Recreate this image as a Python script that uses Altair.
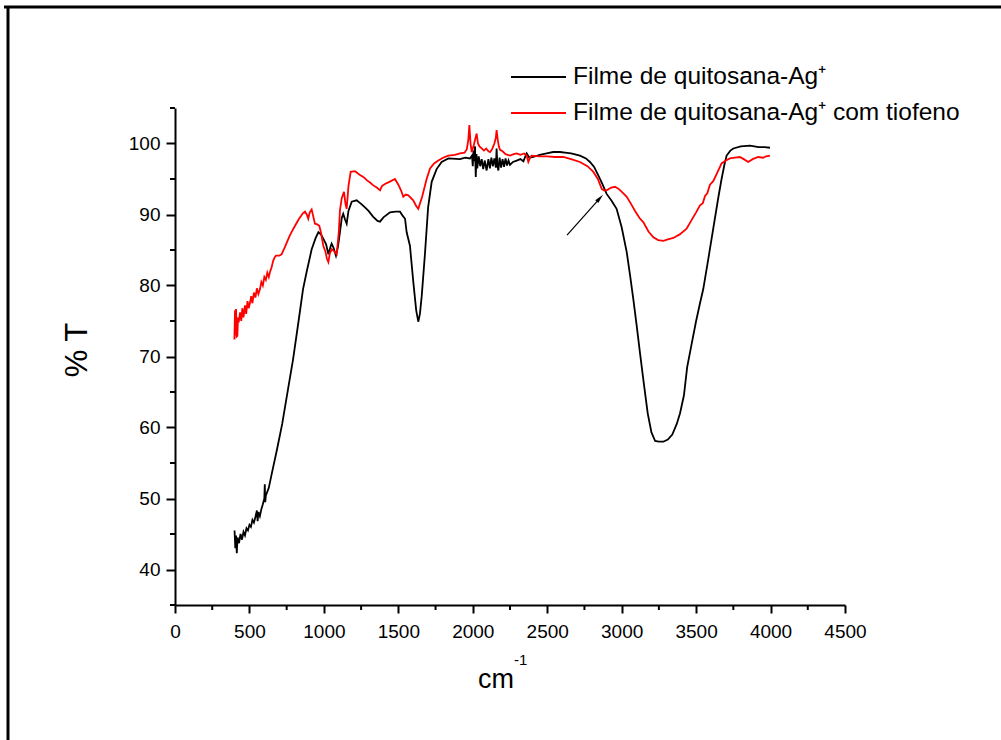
import altair as alt
import pandas as pd

# ---- data ----
black_x = [400, 405, 410, 415, 420, 430, 440, 450, 460, 470, 480, 490, 500, 510, 520, 530, 540, 550, 555, 560,
           570, 580, 590, 600, 603, 606, 610, 630, 650, 685, 720, 760, 793, 830, 860, 884, 918, 945, 963, 980,
           996, 1015, 1030, 1045, 1052, 1065, 1081, 1095, 1108, 1120, 1130, 1142, 1153, 1165, 1187, 1220, 1250,
           1276, 1300, 1330, 1360, 1377, 1400, 1444, 1480, 1511, 1530, 1545, 1556, 1578, 1601, 1620, 1634, 1645,
           1657, 1679, 1700, 1724, 1757, 1791, 1836, 1914, 1950, 1981, 1995, 2000, 2005, 2010, 2015, 2020, 2025,
           2030, 2040, 2050, 2060, 2070, 2080, 2093, 2105, 2115, 2125, 2135, 2145, 2155, 2160, 2165, 2172, 2180,
           2190, 2200, 2210, 2220, 2230, 2240, 2250, 2270, 2295, 2320, 2340, 2355, 2362, 2380, 2406, 2450, 2496,
           2540, 2586, 2620, 2660, 2720, 2760, 2787, 2815, 2843, 2870, 2899, 2930, 2966, 3000, 3034, 3056, 3078,
           3100, 3123, 3150, 3175, 3200, 3225, 3250, 3280, 3310, 3340, 3370, 3392, 3418, 3440, 3472, 3500, 3526,
           3548, 3580, 3615, 3650, 3671, 3690, 3705, 3730, 3750, 3800, 3862, 3920, 3960, 3996]
black_y = [45.5, 43.0, 44.8, 42.3, 44.5, 43.7, 45.0, 44.2, 45.3, 44.8, 45.8, 45.5, 46.3, 46.0, 47.0, 46.6, 47.4,
           48.3, 46.8, 48.1, 47.5, 48.5, 49.2, 50.0, 52.0, 49.5, 50.4, 51.5, 53.5, 56.9, 60.5, 65.5, 69.6, 75.0,
           79.5, 81.9, 85.1, 86.7, 87.5, 87.2, 86.6, 85.8, 84.4, 85.5, 85.9, 85.3, 84.2, 85.5, 87.5, 89.5, 90.1,
           89.3, 88.7, 90.5, 91.8, 92.0, 91.5, 91.0, 90.5, 89.7, 89.1, 89.0, 89.6, 90.3, 90.4, 90.4, 89.8, 89.4,
           87.5, 85.6, 80.4, 76.5, 74.9, 76.0, 78.5, 84.5, 91.0, 94.6, 96.4, 97.4, 97.9, 97.8, 98.0, 97.9, 98.3,
           96.8, 99.0, 97.5, 99.6, 95.3, 98.5, 96.5, 98.2, 96.8, 97.8, 96.4, 97.6, 96.2, 97.8, 96.5, 98.0, 96.8,
           97.9, 96.6, 99.3, 97.0, 96.2, 98.0, 96.6, 97.8, 96.7, 97.9, 96.9, 97.6, 97.0, 97.4, 97.6, 97.8, 97.5,
           98.3, 98.6, 98.0, 98.1, 98.4, 98.6, 98.8, 98.8, 98.7, 98.6, 98.3, 97.9, 97.4, 96.7, 95.5, 94.3, 92.9,
           92.0, 90.8, 88.2, 84.7, 81.5, 78.1, 74.5, 70.5, 66.0, 62.0, 59.3, 58.1, 58.0, 58.0, 58.3, 59.0, 60.5,
           62.0, 64.5, 68.5, 72.0, 75.0, 77.5, 79.5, 83.5, 88.0, 92.5, 95.0, 97.0, 98.3, 99.0, 99.3, 99.6, 99.7,
           99.5, 99.5, 99.4]

red_x = [399, 403, 406, 410, 414, 419, 423, 428, 437, 445, 452, 460, 470, 478, 487, 495, 504, 512, 520, 530,
         540, 550, 560, 571, 580, 590, 600, 610, 620, 630, 638, 648, 660, 670, 678, 700, 716, 740, 770, 795,
         830, 860, 873, 885, 895, 905, 918, 930, 940, 955, 969, 980, 996, 1010, 1020, 1030, 1040, 1052, 1070,
         1086, 1100, 1108, 1120, 1135, 1145, 1153, 1165, 1180, 1209, 1240, 1265, 1290, 1310, 1332, 1355, 1377,
         1390, 1410, 1440, 1477, 1500, 1520, 1533, 1550, 1567, 1600, 1620, 1634, 1660, 1690, 1713, 1740, 1769,
         1800, 1836, 1880, 1914, 1945, 1960, 1970, 1977, 1985, 1993, 2005, 2015, 2026, 2035, 2045, 2060, 2075,
         2090, 2105, 2116, 2130, 2145, 2155, 2160, 2168, 2175, 2183, 2200, 2220, 2250, 2275, 2295, 2320, 2345,
         2362, 2373, 2385, 2395, 2450, 2500, 2550, 2608, 2660, 2720, 2770, 2810, 2840, 2866, 2880, 2899, 2930,
         2955, 2980, 3010, 3034, 3060, 3090, 3120, 3146, 3180, 3213, 3245, 3280, 3310, 3347, 3390, 3436, 3480,
         3500, 3526, 3545, 3560, 3575, 3593, 3615, 3640, 3671, 3700, 3727, 3760, 3794, 3820, 3850, 3880, 3917,
         3950, 3970, 3996]
red_y = [72.4, 76.5, 73.0, 76.7, 72.8, 72.9, 75.5, 74.8, 76.2, 75.0, 76.8, 75.5, 77.2, 76.0, 77.8, 76.8, 77.6,
         78.5, 77.5, 79.0, 78.3, 79.6, 78.8, 79.5, 80.5, 80.0, 81.2, 80.8, 81.8, 81.2, 81.9, 82.5, 83.5, 84.0,
         84.2, 84.2, 84.4, 85.5, 87.0, 88.0, 89.3, 90.2, 90.4, 90.0, 89.4, 90.3, 90.7, 89.6, 88.7, 88.6, 88.4,
         87.5, 85.6, 84.8, 83.8, 83.3, 84.5, 85.1, 84.8, 84.4, 87.5, 90.6, 92.3, 93.2, 91.5, 90.8, 94.0, 96.0,
         96.1, 95.6, 95.3, 94.8, 94.5, 94.1, 93.8, 93.4, 94.0, 94.3, 94.6, 95.0, 94.2, 93.3, 92.5, 92.8, 92.7,
         92.0, 91.2, 90.8, 92.5, 95.0, 96.5, 97.2, 97.6, 98.0, 98.3, 98.4, 98.6, 98.7, 99.2, 100.5, 102.6, 100.0,
         98.8, 99.6, 100.5, 101.4, 100.0, 99.6, 99.3, 99.0, 99.3, 98.9, 98.8, 99.2, 100.0, 100.8, 101.9, 100.5,
         99.6, 99.1, 98.9, 98.5, 98.3, 98.5, 98.6, 98.4, 98.6, 98.3, 97.4, 98.0, 98.3, 98.2, 98.2, 98.1, 98.1,
         97.8, 97.4, 96.8, 96.0, 95.0, 93.6, 93.4, 93.4, 93.8, 93.9, 93.6, 93.0, 92.5, 91.6, 90.5, 89.5, 88.9,
         87.6, 86.8, 86.4, 86.3, 86.5, 86.7, 87.2, 88.0, 89.6, 90.3, 91.3, 91.6, 92.6, 93.0, 94.2, 94.7, 95.8,
         97.2, 97.6, 97.9, 98.0, 98.1, 97.8, 97.4, 97.8, 98.1, 98.0, 98.2, 98.3]

series_names = ["Filme de quitosana-Ag\u207a", "Filme de quitosana-Ag\u207a com tiofeno"]
series_colors = ["#000000", "#ff0000"]

x_major = list(range(0, 4501, 500))
x_minor = list(range(250, 4500, 500))
y_major = list(range(40, 101, 10))
y_minor = list(range(35, 106, 10))

x_title = "cm"
x_title_sup = "-1"
y_title = "% T"

# arrow annotation (data coordinates)
arrow_start = {"x": 2633, "y": 87.1}
arrow_tip = {"x": 2850, "y": 92.2}

W, H = 670, 497

df = pd.concat([
    pd.DataFrame({"x": black_x, "y": black_y, "s": series_names[0], "o": range(len(black_x))}),
    pd.DataFrame({"x": red_x, "y": red_y, "s": series_names[1], "o": range(len(red_x))}),
])

FONT = "Liberation Sans"

xscale = alt.Scale(domain=[0, 4500], nice=False, zero=False)
yscale = alt.Scale(domain=[35, 105], nice=False, zero=False)

x_axis = alt.Axis(
    values=x_major, format="d", tickSize=8,
    labelPadding=9, labelFontSize=19, labelFont=FONT, labelColor="black",
    domainColor="black", domainWidth=2, tickColor="black", tickWidth=2,
    grid=False, labelOverlap=False, labelFlush=False, title=None,
)
y_axis = alt.Axis(
    values=y_major, format="d", tickSize=9,
    labelPadding=6, labelFontSize=19, labelFont=FONT, labelColor="black",
    domainColor="black", domainWidth=2, tickColor="black", tickWidth=2,
    grid=False, labelOverlap=False, labelFlush=False, title=None,
)

lines = alt.Chart(df).mark_line(strokeWidth=1.8).encode(
    x=alt.X("x:Q", scale=xscale, axis=x_axis),
    y=alt.Y("y:Q", scale=yscale, axis=y_axis),
    color=alt.Color("s:N", scale=alt.Scale(domain=series_names, range=series_colors), legend=None),
    order="o:Q",
)

xminor_df = pd.DataFrame({"v": x_minor})
yminor_df = pd.DataFrame({"v": y_minor})
x_minor_ticks = alt.Chart(xminor_df).mark_rule(color="black", strokeWidth=2).encode(
    x=alt.X("v:Q", scale=xscale), y=alt.value(H), y2=alt.value(H + 5))
y_minor_ticks = alt.Chart(yminor_df).mark_rule(color="black", strokeWidth=2).encode(
    y=alt.Y("v:Q", scale=yscale), x=alt.value(-5), x2=alt.value(0))

arrow_df = pd.DataFrame({"x0": [arrow_start["x"]], "y0": [arrow_start["y"]],
                         "x1": [arrow_tip["x"]], "y1": [arrow_tip["y"]]})
arrow_line = alt.Chart(arrow_df).mark_rule(color="black", strokeWidth=1.2).encode(
    x=alt.X("x0:Q", scale=xscale), y=alt.Y("y0:Q", scale=yscale),
    x2="x1:Q", y2="y1:Q",
)
arrow_head = alt.Chart(arrow_df).mark_point(
    shape="M0,-1L0.38,0.7L-0.38,0.7Z", filled=True, color="black", opacity=1, size=120, angle=42,
).encode(x=alt.X("x1:Q", scale=xscale), y=alt.Y("y1:Q", scale=yscale))

one = pd.DataFrame({"a": [0]})
legend_layers = []
for i, (name, col) in enumerate(zip(series_names, series_colors)):
    ly = -31 + i * 36
    legend_layers.append(alt.Chart(one).mark_rule(color=col, strokeWidth=2).encode(
        x=alt.value(336), x2=alt.value(391), y=alt.value(ly)))
    legend_layers.append(alt.Chart(one).mark_text(
        align="left", baseline="middle", font=FONT, fontSize=24.5, color="black").encode(
        x=alt.value(398), y=alt.value(ly), text=alt.value(name)))

title_layers = [
    alt.Chart(one).mark_text(align="right", baseline="alphabetic", font=FONT, fontSize=27,
                             color="black").encode(
        x=alt.value(339), y=alt.value(580), text=alt.value(x_title)),
    alt.Chart(one).mark_text(align="left", baseline="alphabetic", font=FONT, fontSize=15,
                             color="black").encode(
        x=alt.value(339), y=alt.value(557), text=alt.value(x_title_sup)),
    alt.Chart(one).mark_text(align="center", baseline="middle", font=FONT, fontSize=31, angle=270,
                             color="black").encode(
        x=alt.value(-97), y=alt.value(242), text=alt.value(y_title)),
]

frame_top = alt.Chart(one).mark_rule(color="black", strokeWidth=3).encode(
    x=alt.value(-171), x2=alt.value(W + 160), y=alt.value(-101))
frame_left = alt.Chart(one).mark_rule(color="black", strokeWidth=3).encode(
    x=alt.value(-167), y=alt.value(-102), y2=alt.value(H + 140))

chart = alt.layer(lines, x_minor_ticks, y_minor_ticks, arrow_line, arrow_head,
                  *legend_layers, *title_layers, frame_top, frame_left).properties(
    width=W, height=H,
    padding={"left": 175, "top": 108, "right": 156, "bottom": 135},
    autosize=alt.AutoSizeParams(type="none"),
    background="white",
).configure_view(stroke=None)

chart.save("out.html", embed_options={"renderer": "svg", "actions": False})
